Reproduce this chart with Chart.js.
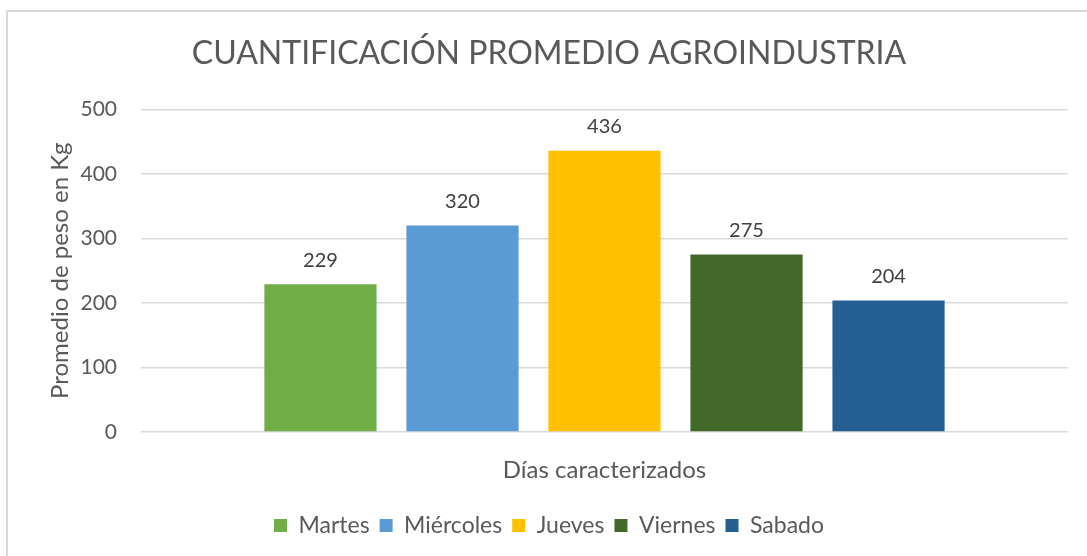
<!DOCTYPE html>
<html>
<head>
<meta charset="utf-8">
<script src="https://cdn.jsdelivr.net/npm/chart.js@4"></script>
<style>
  html, body { margin: 0; padding: 0; background: #fff; }
  #wrap { position: relative; width: 1087px; height: 556px; }
  #frame { position: absolute; left: 6px; top: 10px; right: -10px; bottom: -10px;
           border-left: 2px solid #d9d9d9; border-top: 2px solid #d9d9d9; pointer-events: none; }
  canvas { position: absolute; left: 0; top: 0; }
</style>
</head>
<body>
<div id="wrap">
  <canvas id="chart" width="1087" height="556"></canvas>
  <div id="frame"></div>
</div>
<script>
// datos del gráfico
const dias = ['Martes', 'Miércoles', 'Jueves', 'Viernes', 'Sabado'];
const pesos = [229, 320, 436, 275, 204];
const colores = ['#70AD47', '#5B9BD5', '#FFC000', '#43682B', '#255E91'];
const categoria = [''];

const fuente = 'Lato, "Open Sans", sans-serif';

// etiquetas de valor encima de cada barra
const etiquetasValor = {
  id: 'etiquetasValor',
  afterDatasetsDraw(chart) {
    const ctx = chart.ctx;
    ctx.save();
    ctx.font = '20px ' + fuente;
    ctx.fillStyle = '#404040';
    ctx.textAlign = 'center';
    ctx.textBaseline = 'middle';
    chart.data.datasets.forEach((ds, i) => {
      const meta = chart.getDatasetMeta(i);
      meta.data.forEach((bar, j) => {
        ctx.fillText(String(ds.data[j]), bar.x, bar.y - 24);
      });
    });
    ctx.restore();
  }
};

const datasets = dias.map((dia, i) => ({
  label: dia,
  data: [pesos[i]],
  backgroundColor: colores[i],
  borderWidth: 0
}));

new Chart(document.getElementById('chart'), {
  type: 'bar',
  data: { labels: categoria, datasets: datasets },
  plugins: [etiquetasValor],
  options: {
    responsive: false,
    animation: false,
    categoryPercentage: 0.766,
    barPercentage: 0.79,
    layout: { padding: { left: 30, right: 19, top: 0, bottom: 9 } },
    plugins: {
      title: {
        display: true,
        text: 'CUANTIFICACIÓN PROMEDIO AGROINDUSTRIA',
        color: '#595959',
        font: { family: fuente, size: 32, weight: 'normal' },
        padding: { top: 34, bottom: 37 }
      },
      legend: {
        position: 'bottom',
        labels: {
          color: '#595959',
          font: { family: fuente, size: 23 },
          boxWidth: 13,
          boxHeight: 13,
          padding: 10
        }
      },
      tooltip: { enabled: false }
    },
    scales: {
      x: {
        grid: { display: false, drawTicks: false },
        border: { display: false },
        ticks: { display: false },
        title: {
          display: true,
          text: 'Días caracterizados',
          color: '#595959',
          font: { family: fuente, size: 24 },
          padding: { top: 0, bottom: 19 }
        },
        afterFit(scale) { scale.height = 72; }
      },
      y: {
        min: 0,
        max: 500,
        ticks: {
          stepSize: 100,
          color: '#595959',
          font: { family: fuente, size: 21 },
          padding: 24
        },
        grid: { color: '#D9D9D9', lineWidth: 1.5, drawTicks: false },
        border: { display: false },
        title: {
          display: true,
          text: 'Promedio de peso en Kg',
          color: '#595959',
          font: { family: fuente, size: 24 },
          padding: { top: 16, bottom: 0 }
        },
        afterFit(scale) { scale.width = 111; }
      }
    }
  }
});
</script>
</body>
</html>
